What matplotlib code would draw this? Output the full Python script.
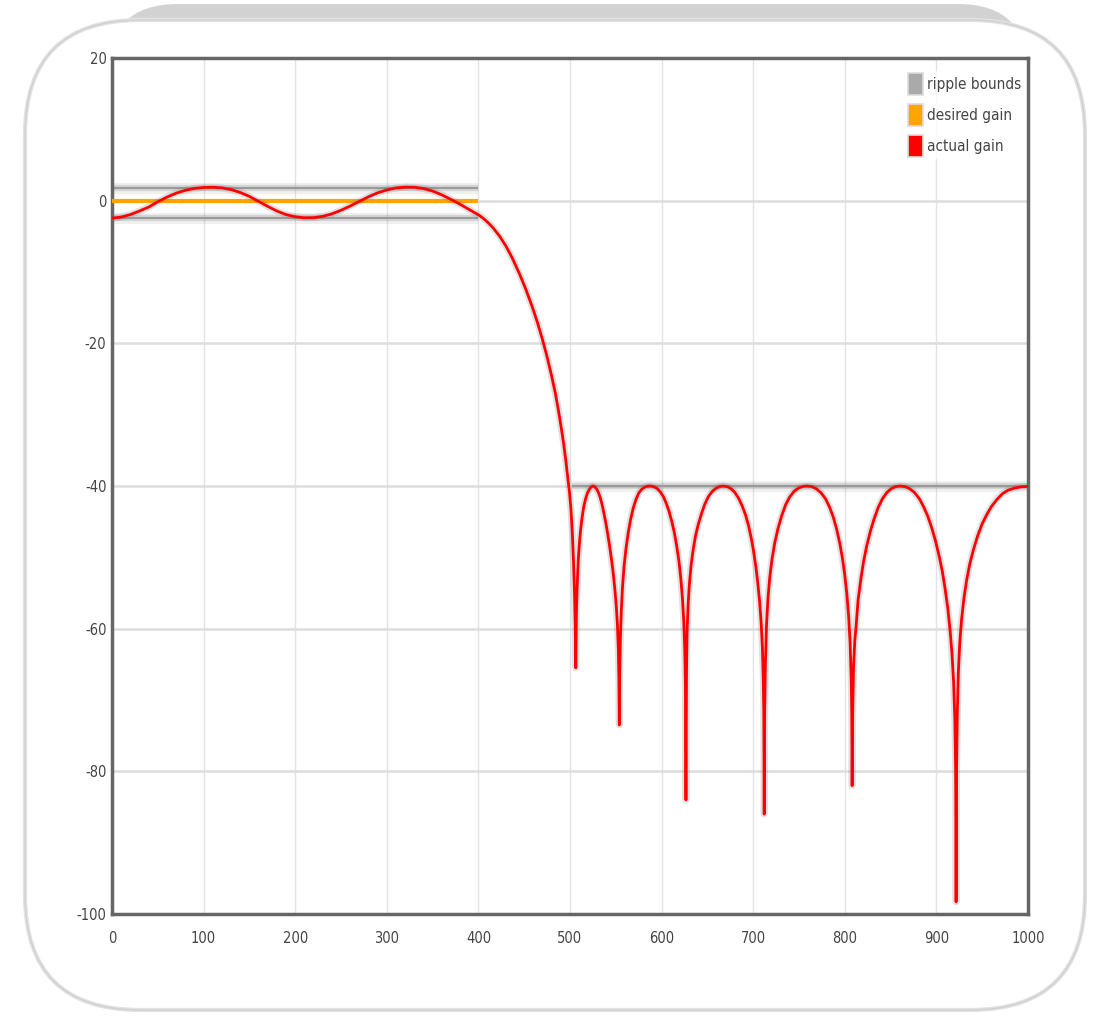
import matplotlib
matplotlib.use("Agg")
import matplotlib.pyplot as plt
from matplotlib.patches import FancyBboxPatch, Patch

# values (frequency, gain in dB)
freq = [0, 10, 20, 30, 40, 50, 60, 70, 80, 90, 100, 110, 120, 130, 140, 150, 160, 170, 180, 190,
        200, 210, 220, 230, 240, 250, 260, 270, 280, 290, 300, 310, 320, 330, 340, 350, 360, 370,
        380, 390, 400,
        405, 410, 416, 423, 430, 437, 445, 452, 459, 465, 470, 475, 480, 484, 487.5, 490.5, 493,
        495.5, 497.5, 499.5, 501, 502.5, 503.8, 504.9, 505.7, 506.3,
        507, 507.6, 508.3, 509.2, 510.3, 511.5, 513, 515, 517, 519, 521, 523, 525, 527, 529, 531,
        533, 535, 537, 539, 541, 543, 545, 547, 549, 550.5, 551.8, 552.8, 553.4, 553.8,
        554.3, 555, 556, 557.3, 559, 561, 563.5, 566, 569, 572, 575, 578, 581, 584.5, 588, 591.5,
        595, 598.5, 602, 605, 608, 611, 614, 616.5, 619, 621, 622.8, 624.2, 625.3, 626, 626.6,
        627.2, 627.8, 629, 630.5, 632.3, 634.5, 637, 640, 643.5, 647, 651, 655, 659, 663, 667.4,
        672, 676, 680, 684, 688, 691.5, 695, 698, 700.5, 703, 705, 707, 708.7, 710, 711, 711.6, 712,
        712.5, 713.3, 714.5, 716, 718, 720.5, 723.5, 727, 731, 735.5, 740, 745, 750, 755, 759,
        764, 769, 774, 779, 783.5, 787.5, 791, 794.5, 797.5, 800, 802.3, 804.2, 805.8, 807, 807.6, 808,
        808.6, 809.5, 811, 812.2, 814.5, 817.7, 820.5, 823.9, 828, 832, 836.5, 841, 846, 851,
        855.5, 860.3, 865.5, 870.5, 876, 881.5, 886, 890.5, 895, 899, 903, 906.5, 909.5, 912.5,
        915, 917, 918.8, 920.2, 921, 921.5,
        922, 922.8, 924, 925.5, 927.5, 930, 933, 936.5, 940.5, 945, 950, 955, 960, 966, 972, 978,
        985, 992, 1000]
gain_db = [-2.45, -2.3, -1.95, -1.45, -0.9, -0.15, 0.5, 1.05, 1.45, 1.72, 1.85, 1.88, 1.8, 1.55,
           1.15, 0.6, -0.1, -0.8, -1.45, -1.95, -2.25, -2.4, -2.38, -2.2, -1.85, -1.35, -0.75,
           -0.1, 0.55, 1.1, 1.5, 1.78, 1.9, 1.88, 1.7, 1.35, 0.82, 0.18, -0.5, -1.25, -1.98,
           -2.45, -3.0, -3.8, -4.95, -6.35, -8.05, -10.3, -12.5, -14.95, -17.3, -19.5, -21.9, -24.6,
           -27.0, -29.5, -31.9, -34.0, -36.5, -38.7, -41.0, -43.2, -46.5, -50.5, -55, -59.5, -65.5,
           -58, -55, -52.5, -50, -48, -46.3, -44.6, -42.9, -41.8, -41.0, -40.5, -40.15, -40.0,
           -40.1, -40.4, -40.9, -41.6, -42.6, -43.8, -45.1, -46.6, -48.2, -50.0, -52.0, -54.5,
           -56.8, -59.5, -63, -67, -73.5,
           -66, -61.5, -57.5, -54.2, -51.3, -48.9, -46.6, -44.8, -43.1, -41.9, -41.0, -40.5,
           -40.2, -40.02, -40.0, -40.1, -40.35, -40.8, -41.5, -42.4, -43.5, -44.9, -46.6, -48.4,
           -50.6, -53, -55.8, -59, -63, -68, -84,
           -66, -60.5, -56.5, -53.5, -51, -48.9, -47.0, -45.4, -43.9, -42.6, -41.5, -40.8, -40.35,
           -40.08, -40.0, -40.1, -40.4, -40.9, -41.7, -42.8, -44.0, -45.6, -47.4, -49.2, -51.4,
           -53.6, -56.2, -59.2, -62.5, -67, -72, -86,
           -72, -65, -59.6, -56, -52.9, -50.3, -48.0, -46.0, -44.2, -42.6, -41.5, -40.7, -40.25,
           -40.04, -40.0, -40.08, -40.4, -40.95, -41.8, -43.0, -44.4, -46.0, -48.0, -50.2, -52.5,
           -55.2, -58.3, -62, -67, -72, -82,
           -72, -65.5, -61.5, -59.9, -56, -52.9, -50.6, -48.4, -46.3, -44.6, -43.0, -41.8, -40.9,
           -40.35, -40.08, -40.0, -40.08, -40.35, -40.9, -41.8, -42.9, -44.2, -45.9, -47.7, -49.8,
           -52.0, -54.4, -57.2, -60.3, -63.5, -67.5, -73, -80, -98.3,
           -80, -72, -66, -62, -58.7, -55.8, -53.2, -50.9, -48.9, -47.0, -45.3, -44.0, -42.9,
           -41.9, -41.1, -40.6, -40.3, -40.12, -40.05]

pass_band = [0, 400]
stop_band = [502, 1000]
pass_upper = 1.8
pass_lower = -2.4
stop_upper = -40
desired_pass = 0

xticks = [0, 100, 200, 300, 400, 500, 600, 700, 800, 900, 1000]
yticks = [20, 0, -20, -40, -60, -80, -100]

W, H = 1094, 1016
fig = plt.figure(figsize=(W / 100, H / 100), dpi=100)
fig.patch.set_facecolor("white")

# card-like background
bg = fig.add_axes([0, 0, 1, 1], zorder=0)
bg.set_xlim(0, W)
bg.set_ylim(H, 0)
bg.axis("off")
bg.add_patch(FancyBboxPatch((108, 4), 920, 300, boxstyle="round,pad=0,rounding_size=70",
                            fc="#d2d2d2", ec="none"))
bg.add_patch(FancyBboxPatch((25, 20), 1060, 990, boxstyle="round,pad=0,rounding_size=115",
                            fc="white", ec="#e2e2e2", lw=3))
bg.add_patch(FancyBboxPatch((25, 20), 1060, 990, boxstyle="round,pad=0,rounding_size=115",
                            fc="none", ec="#d0d0d0", lw=1))

ax = fig.add_axes([112 / W, 1 - 914 / H, 916 / W, 856 / H], zorder=1)
ax.set_facecolor("white")

font = dict(family="DejaVu Sans", stretch="condensed")

# grid
for x in xticks[1:-1]:
    ax.axvline(x, color="#e3e3e3", lw=1, zorder=0)
for y in yticks[1:-1]:
    ax.axhline(y, color="#dddddd", lw=1.8, zorder=0)

# ripple bounds (blurred gray)
def bound(xs, y):
    ax.plot(xs, [y, y], color="#888888", lw=8, alpha=0.12, solid_capstyle="butt", zorder=2)
    ax.plot(xs, [y, y], color="#888888", lw=4.5, alpha=0.25, solid_capstyle="butt", zorder=2)
    ax.plot(xs, [y, y], color="#9a9a9a", lw=1.5, solid_capstyle="butt", zorder=2)

bound(pass_band, pass_upper)
bound(pass_band, pass_lower)
bound(stop_band, stop_upper)

# desired gain
ax.plot(pass_band, [desired_pass, desired_pass], color="#ffa500", lw=3,
        solid_capstyle="butt", zorder=3)

# actual gain with soft shadow
ax.plot(freq, gain_db, color="#777777", lw=5, alpha=0.22, zorder=4)
ax.plot(freq, gain_db, color="#ff0000", lw=2, zorder=5)

ax.set_xlim(0, 1000)
ax.set_ylim(-100, 20)
ax.set_xticks(xticks)
ax.set_yticks(yticks)
ax.set_xticklabels([str(t) for t in xticks], fontsize=10.5, color="#444444", **font)
ax.set_yticklabels([str(t) for t in yticks], fontsize=10.5, color="#444444", **font)
ax.tick_params(axis="x", length=0, pad=12)
ax.tick_params(axis="y", length=0, pad=4)

for s in ax.spines.values():
    s.set_color("#666666")
    s.set_linewidth(2.5)

handles = [Patch(fc="#aaaaaa", ec="#dddddd", lw=1.2),
           Patch(fc="#ffa500", ec="#dddddd", lw=1.2),
           Patch(fc="#ff0000", ec="#dddddd", lw=1.2)]
leg = ax.legend(handles, ["ripple bounds", "desired gain", "actual gain"],
                loc="upper right", bbox_to_anchor=(1.0, 0.99), frameon=True,
                handlelength=1.0, handleheight=1.8, handletextpad=0.25, labelspacing=0.6,
                borderpad=0.15, borderaxespad=0.3, prop=dict(size=11, **font))
leg.get_frame().set_edgecolor("none")
leg.get_frame().set_facecolor("white")
for t in leg.get_texts():
    t.set_color("#444444")

plt.savefig("out.png", dpi=100)
